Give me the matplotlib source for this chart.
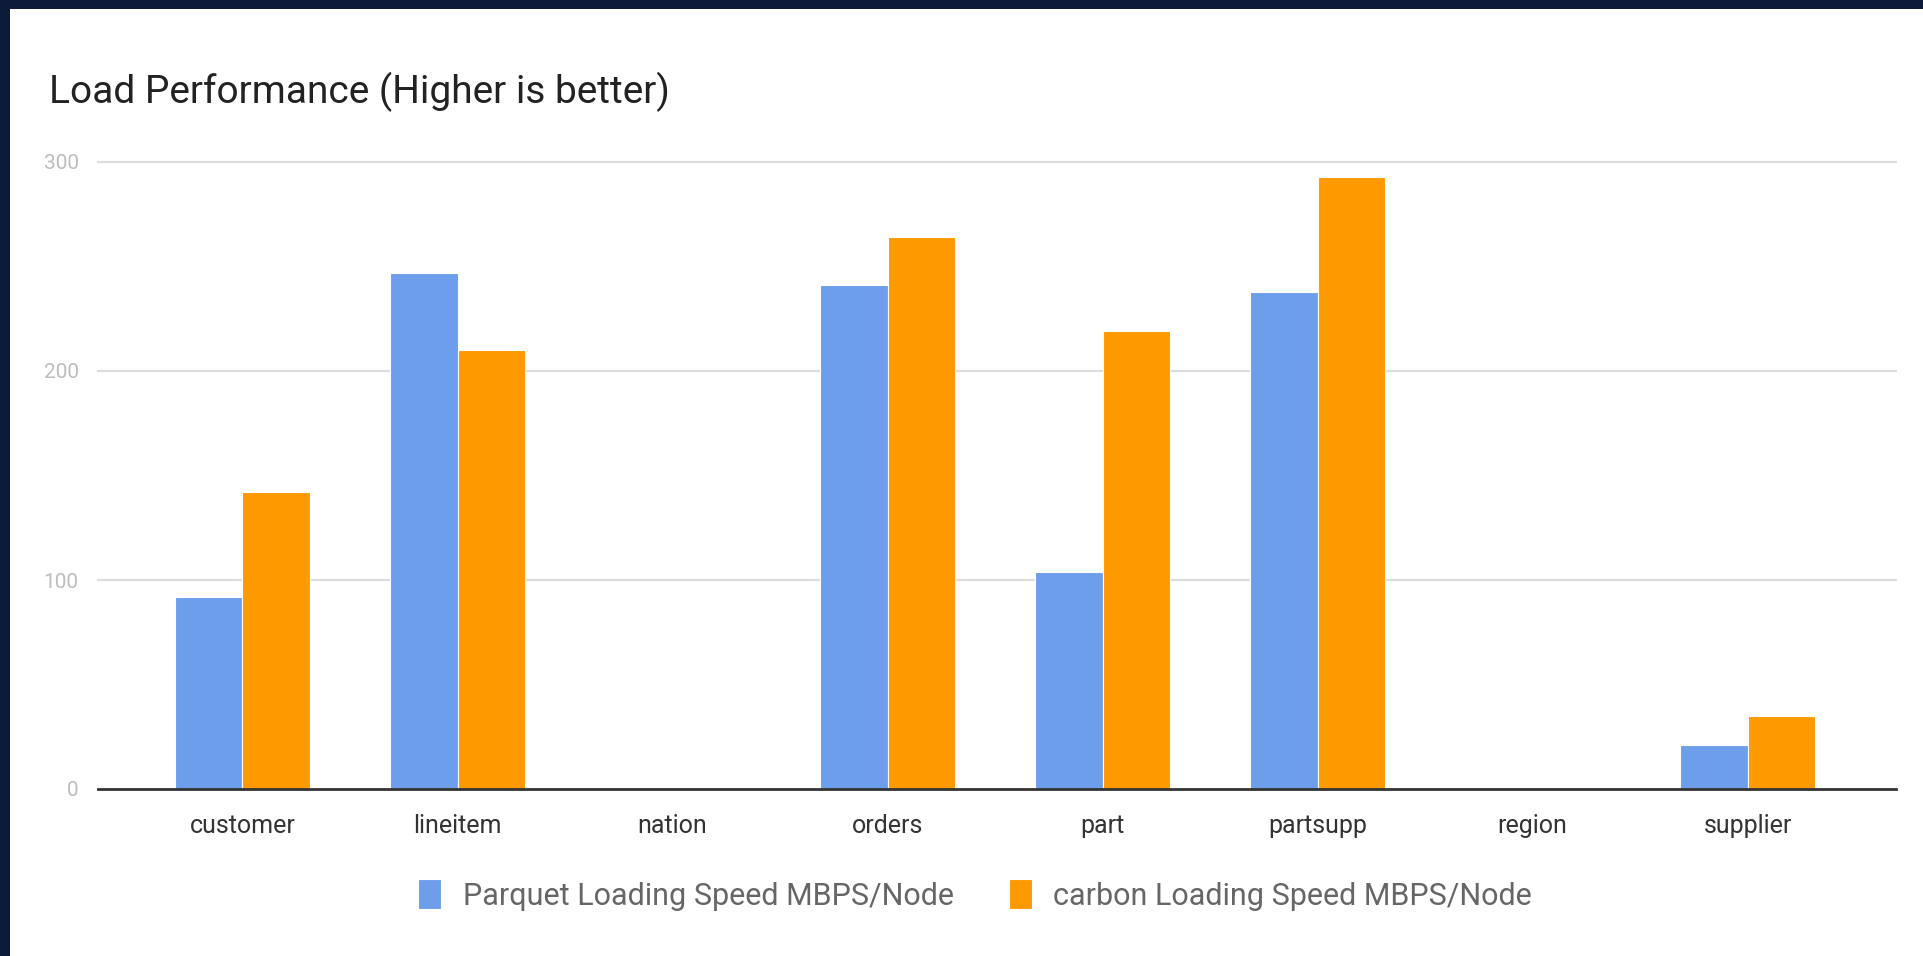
import numpy as np
import matplotlib.pyplot as plt
from matplotlib.patches import Rectangle

categories = ['customer', 'lineitem', 'nation', 'orders', 'part', 'partsupp', 'region', 'supplier']
parquet = [92, 247, 0, 241, 104, 238, 0, 21]
carbon = [142, 210, 0, 264, 219, 293, 0, 35]
series_names = ['Parquet Loading Speed MBPS/Node', 'carbon Loading Speed MBPS/Node']
y_ticks = [0, 100, 200, 300]

blue = '#6d9eeb'
orange = '#ff9900'

W, H = 1923, 956
fig = plt.figure(figsize=(W / 100, H / 100), dpi=100)
fig.patch.set_facecolor('#0d1a38')
# white card behind everything
fig.patches.append(Rectangle((10 / W, 0), 1, 1 - 9 / H, transform=fig.transFigure,
                             facecolor='white', edgecolor='none', zorder=-5))

ax = fig.add_axes([98 / W, 1 - 789 / H, (1896 - 98) / W, (789 - 162) / H])
ax.set_zorder(2)
ax.set_facecolor('white')

x = np.arange(len(categories))
bw = 0.314
ax.bar(x - bw / 2, parquet, bw, color=blue, edgecolor='white', linewidth=0.8, label=series_names[0], zorder=3)
ax.bar(x + bw / 2, carbon, bw, color=orange, edgecolor='white', linewidth=0.8, label=series_names[1], zorder=3)

ax.set_xlim(-0.672, 7.69)
ax.set_ylim(0, 300)
ax.set_yticks(y_ticks)
ax.set_yticklabels([str(v) for v in y_ticks])
ax.set_xticks(x)
ax.set_xticklabels(categories)
ax.tick_params(axis='y', length=0, pad=14, labelsize=15, labelcolor='#bdbdbd')
ax.tick_params(axis='x', length=0, pad=18, labelsize=18, labelcolor='#333333')
for lab in ax.get_xticklabels() + ax.get_yticklabels():
    lab.set_family('Roboto')

for s in ['top', 'right', 'left']:
    ax.spines[s].set_visible(False)
ax.spines['bottom'].set_color('#333333')
ax.spines['bottom'].set_linewidth(2)
ax.spines['bottom'].set_zorder(4)
for v in y_ticks[1:]:
    ax.axhline(v, color='#dddddd', linewidth=1.6, zorder=1, clip_on=False)

fig.text(49 / W, 1 - 92 / H, 'Load Performance (Higher is better)', fontsize=28,
         family='Roboto', color='#222222', va='center', ha='left')

leg = ax.legend(loc='center', bbox_to_anchor=(975 / W, 1 - 895 / H), bbox_transform=fig.transFigure,
                ncol=2, frameon=False, handlelength=0.75, handleheight=1.1,
                handletextpad=0.7, columnspacing=1.8, prop={'family': 'Roboto', 'size': 22})
for t in leg.get_texts():
    t.set_color('#666666')

fig.savefig('out.png', dpi=100, facecolor=fig.get_facecolor())
